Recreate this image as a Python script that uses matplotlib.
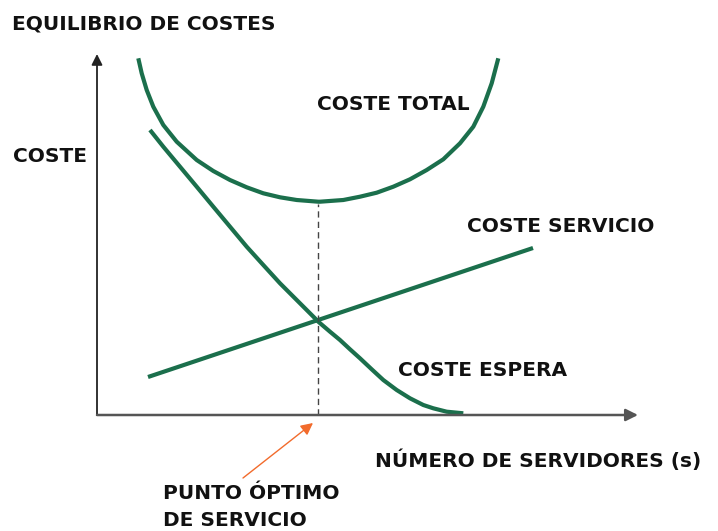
import numpy as np
import matplotlib
matplotlib.use('Agg')
import matplotlib.pyplot as plt

# Origen del diagrama en la imagen (px): (97, 415). Unidades = px desde el origen.
# Coste total (forma de U)
total_s = np.array([41.3, 44.7, 49.7, 56.3, 66.3, 79.7, 99.7, 116.3, 133, 149.7, 166.3,
                    183, 199.7, 221.3, 223, 246.3, 263, 279.7, 296.3, 313, 329.7,
                    346.3, 363, 376.3, 386.3, 394.7, 401.3])
total_c = np.array([356.7, 341.7, 325, 308.3, 290, 273.3, 255, 244, 235, 227.7, 221.7,
                    217.7, 215, 213.3, 213.3, 215, 218.3, 222.3, 228.3, 235.7, 245,
                    255.7, 271.7, 288.3, 308.3, 331.7, 356.7])

# Coste de espera (decreciente)
espera_s = np.array([53, 66.3, 83, 99.7, 116.3, 133, 149.7, 166.3, 183, 199.7, 219.7,
                     221.3, 233, 243, 253, 263, 274.7, 286.3, 299.7, 313, 326.3,
                     336.3, 349.7, 366.3])
espera_c = np.array([285, 268.3, 248.3, 228.3, 208.3, 188.3, 168.3, 150, 131.7, 115, 95,
                     93.3, 83.3, 75, 65.7, 56.7, 45.7, 35, 25, 16.7, 10,
                     6.7, 3.3, 1.7])

# Coste de servicio (recta)
servicio_s = np.array([51, 436])
servicio_c = np.array([38, 167])

s_optimo = 221
c_optimo_total = 213

verde = '#1b6f4c'
fuente = 'DejaVu Sans'

fig = plt.figure(figsize=(7.18, 5.31), dpi=100)
ax = fig.add_axes([0, 0, 1, 1])
ax.set_xlim(-97, 621)
ax.set_ylim(-116, 415)
ax.axis('off')

# Ejes con flecha
ax.annotate('', xy=(0, 361), xytext=(0, 0),
            arrowprops=dict(arrowstyle='-|>', color='#222222', lw=1.3,
                            mutation_scale=16, shrinkA=0, shrinkB=0))
ax.annotate('', xy=(541, 0), xytext=(0, 0),
            arrowprops=dict(arrowstyle='-|>', color='#555555', lw=1.8,
                            mutation_scale=18, shrinkA=0, shrinkB=0))

# Curvas
ax.plot(total_s, total_c, color=verde, lw=3, solid_capstyle='butt', solid_joinstyle='round')
ax.plot(espera_s, espera_c, color=verde, lw=3, solid_capstyle='butt', solid_joinstyle='round')
ax.plot(servicio_s, servicio_c, color=verde, lw=3, solid_capstyle='butt')

# Punto optimo
ax.plot([s_optimo, s_optimo], [0, c_optimo_total - 2], color='#444444', lw=1,
        dashes=(4.5, 3))
ax.annotate('', xy=(s_optimo - 5, -8), xytext=(146, -63),
            arrowprops=dict(arrowstyle='-|>', color='#f26b2c', lw=1,
                            mutation_scale=18, shrinkA=0, shrinkB=0))

# Textos
kw = dict(family=fuente, fontweight='bold', fontsize=14.5, color='#111111',
          ha='left', va='baseline')
ax.text(-85, 385, 'EQUILIBRIO DE COSTES', **kw)
ax.text(-84, 253, 'COSTE', **kw)
ax.text(220, 305, 'COSTE TOTAL', **kw)
ax.text(370, 183, 'COSTE SERVICIO', **kw)
ax.text(301, 39, 'COSTE ESPERA', **kw)
ax.text(278, -52, 'NÚMERO DE SERVIDORES (s)', **kw)
ax.text(66, -84, 'PUNTO ÓPTIMO', **kw)
ax.text(66, -111, 'DE SERVICIO', **kw)

fig.savefig('out.png', dpi=100)
